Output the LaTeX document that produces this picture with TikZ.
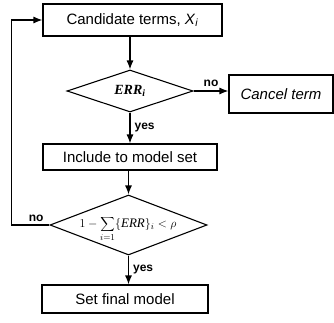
\documentclass[tikz,border=0pt]{standalone}
\usepackage{fontspec}
\setmainfont{Liberation Sans}
\newfontfamily\errfont{Liberation Serif}
\usetikzlibrary{shapes.geometric,arrows.meta}

\begin{document}
\begin{tikzpicture}[x=1pt,y=-1pt]
\tikzstyle{every node}+=[inner sep=0pt]
\tikzstyle{procbox}=[draw,line width=1.1pt,rectangle,font=\fontsize{15}{18}\selectfont]
\tikzstyle{decide}=[draw,line width=1.1pt,diamond,aspect=3]
\tikzstyle{arr}=[line width=1.2pt,-{Latex[length=9pt,width=7pt]}]
\tikzstyle{lbl}=[font=\fontsize{12}{14}\selectfont\bfseries]
\useasboundingbox (0,0) rectangle (334,323);
% boxes
\node [procbox,minimum width=179pt,minimum height=32pt] (cand) at (132.5,20) {Candidate terms, \textit{X}\textsubscript{\textit{i}}};
\node [decide,minimum width=126pt,minimum height=42pt,font=\fontsize{14}{16}\selectfont\errfont\bfseries\itshape] (err) at (130,91) {ERR\textsubscript{i}};
\node [procbox,minimum width=104pt,minimum height=38pt,font=\fontsize{15}{18}\selectfont\itshape] (cancel) at (281,94) {Cancel term};
\node [procbox,minimum width=174pt,minimum height=26pt] (incl) at (130,157) {Include to model set};
\node [decide,minimum width=157pt,minimum height=60pt] (stop) at (128.5,225) {};
\node [font=\fontsize{13}{15}\selectfont] (stoptxt) at (128,229) {$\displaystyle 1-\sum_{i=1}\{\hbox{\errfont\itshape ERR}\}_i<\rho$};
\node [procbox,minimum width=166pt,minimum height=28pt] (final) at (125,299) {Set final model};
% connectors
\draw [arr] (cand.south -| err) -- (err.north);
\draw [arr] (err.east) -- (err.east -| cancel.west) node [lbl,midway,above=4pt] (no1) {no};
\draw [arr] (err.south) -- (incl.north -| err) node [lbl,midway,right=4pt] (yes1) {yes};
\draw [arr] (incl.south -| stop) -- (stop.north);
\draw [arr] (stop.south) -- (final.north -| stop) node [lbl,midway,right=4pt] (yes2) {yes};
\draw [arr] (stop.west) -- ++(-38,0) node [lbl,pos=0.35,above=3pt] (no2) {no} |- (cand.west);
\end{tikzpicture}
\end{document}
